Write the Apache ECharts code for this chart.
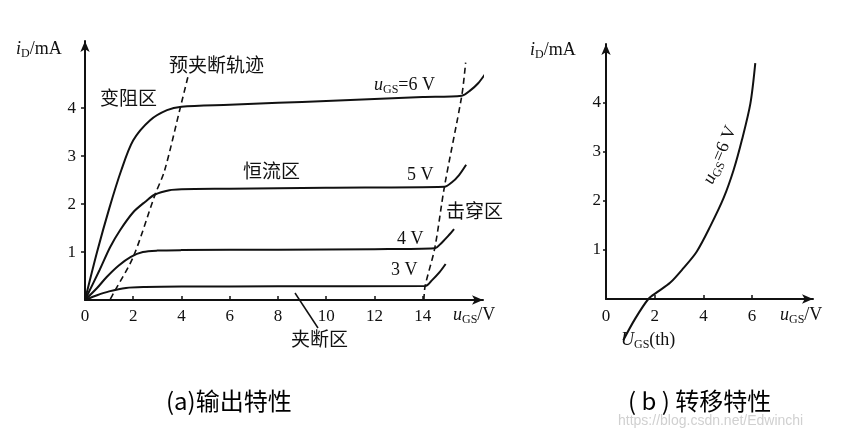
<!DOCTYPE html>
<html><head><meta charset="utf-8">
<script src="https://cdn.jsdelivr.net/npm/echarts@6/dist/echarts.min.js"></script>
<style>html,body{margin:0;padding:0;background:#fff}#c{width:841px;height:438px}</style>
</head><body><div id="c"></div>
<script>
// ---- tick values ----
const outTicksX = [0, 2, 4, 6, 8, 10, 12, 14];
const outTicksY = [1, 2, 3, 4];
const tfTicksX = [0, 2, 4, 6];
const tfTicksY = [1, 2, 3, 4];

// ---- output characteristics (uDS in V, iD in mA) ----
const vds6 = [0, 0.5, 1.0, 1.5, 2.0, 2.7, 3.4, 4.0, 6, 8, 10, 12, 14, 15.62, 15.95, 16.3, 16.6];
const id6  = [0, 1.0, 1.9, 2.7, 3.33, 3.75, 3.96, 4.03, 4.07, 4.11, 4.15, 4.19, 4.23, 4.26, 4.36, 4.52, 4.72];
const vds5 = [0, 0.6, 1.04, 1.46, 2.0, 2.5, 2.9, 3.5, 4.0, 6, 10, 14.9, 15.2, 15.5, 15.8];
const id5  = [0, 0.62, 1.1, 1.46, 1.83, 2.05, 2.2, 2.29, 2.31, 2.32, 2.34, 2.36, 2.45, 2.6, 2.82];
const vds4 = [0, 0.5, 0.9, 1.4, 1.9, 2.4, 3.0, 4, 8, 12, 14.5, 14.8, 15.1, 15.3];
const id4  = [0, 0.25, 0.48, 0.72, 0.9, 1.0, 1.03, 1.04, 1.05, 1.06, 1.08, 1.2, 1.36, 1.48];
const vds3 = [0, 0.5, 1.0, 1.7, 2.5, 4, 8, 14.1, 14.4, 14.7, 14.95];
const id3  = [0, 0.1, 0.18, 0.25, 0.27, 0.28, 0.285, 0.29, 0.42, 0.58, 0.75];
// pre-pinch-off trajectory (dashed)
const vdsPinch = [1.05, 1.18, 2.0, 2.9, 3.3, 3.96, 4.3];
const idPinch  = [0.02, 0.14, 0.9, 2.19, 2.7, 4.03, 4.72];
// breakdown boundary (dashed)
const vdsBreak = [14.05, 14.1, 14.5, 14.9, 15.62, 15.78];
const idBreak  = [0.0, 0.29, 1.08, 2.36, 4.26, 4.95];

// ---- transfer characteristic ----
const vgsT = [0.71, 1.2, 1.74, 2.1, 2.63, 3.18, 3.73, 4.28, 4.83, 5.24, 5.58, 5.93, 6.13];
const idT  = [-0.84, -0.4, 0.0, 0.14, 0.33, 0.63, 0.97, 1.48, 2.06, 2.63, 3.24, 3.99, 4.81];

const zip = (a, b) => a.map((v, i) => [v, b[i]]);

const SERIF = 'Liberation Serif';
const CJK = 'Noto Sans CJK SC';
const INK = '#111';

function axisCommon(extra) {
  return Object.assign({
    type: 'value',
    splitLine: { show: false },
    axisLine: { show: true, onZero: false, lineStyle: { color: INK, width: 2 }, symbol: ['none', 'arrow'], symbolSize: [7, 11] },
    axisTick: { show: true, lineStyle: { color: INK, width: 1.5 }, length: 4 },
    axisLabel: { color: INK, fontFamily: SERIF, fontSize: 17 }
  }, extra);
}

const curveSeries = (x, y, xi, dashed) => ({
  type: 'line', xAxisIndex: xi, yAxisIndex: xi, data: zip(x, y),
  showSymbol: false, smooth: 0.3, clip: false, silent: true,
  lineStyle: dashed ? { color: INK, width: 1.6, type: [6, 4] } : { color: INK, width: 2 }
});

const richSub = {
  i: { fontFamily: SERIF, fontStyle: 'italic', fontSize: 18, fill: INK, verticalAlign: 'middle', lineHeight: 22 },
  s: { fontFamily: SERIF, fontSize: 12, fill: INK, verticalAlign: 'bottom', lineHeight: 14 },
  n: { fontFamily: SERIF, fontSize: 18, fill: INK, verticalAlign: 'middle', lineHeight: 22 }
};

function txt(x, y, text, opts) {
  return { type: 'text', x: x, y: y, silent: true,
    style: Object.assign({ text: text, fill: INK, font: '19px "' + CJK + '"', textAlign: 'left', textVerticalAlign: 'middle' }, opts || {}) };
}
function rtxt(x, y, text, rot) {
  return { type: 'text', x: x, y: y, rotation: rot || 0, silent: true,
    style: { text: text, rich: richSub, textAlign: rot ? 'center' : 'left', textVerticalAlign: 'middle', fill: INK } };
}

const chart = echarts.init(document.getElementById('c'));
chart.setOption({
  backgroundColor: '#fff',
  animation: false,
  grid: [
    { left: 85, top: 41, width: 398, height: 259 },
    { left: 606, top: 44, width: 207, height: 255 }
  ],
  xAxis: [
    axisCommon({ gridIndex: 0, min: 0, max: 16.5, interval: 2,
      axisTick: { show: true, inside: true, length: 4, lineStyle: { color: INK, width: 1.5 }, customValues: outTicksX.slice(1) },
      axisLabel: { color: INK, fontFamily: SERIF, fontSize: 17, margin: 8, customValues: outTicksX } }),
    axisCommon({ gridIndex: 1, min: 0, max: 8.5, interval: 2,
      axisTick: { show: true, inside: true, length: 4, lineStyle: { color: INK, width: 1.5 }, customValues: tfTicksX.slice(1) },
      axisLabel: { color: INK, fontFamily: SERIF, fontSize: 17, margin: 9, customValues: tfTicksX } })
  ],
  yAxis: [
    axisCommon({ gridIndex: 0, min: 0, max: 5.4, interval: 1,
      axisTick: { show: true, length: 4, lineStyle: { color: INK, width: 1.5 }, customValues: outTicksY },
      axisLabel: { color: INK, fontFamily: SERIF, fontSize: 17, margin: 9, customValues: outTicksY } }),
    axisCommon({ gridIndex: 1, min: 0, max: 5.2, interval: 1,
      axisTick: { show: true, length: 3, lineStyle: { color: INK, width: 1.5 }, customValues: tfTicksY },
      axisLabel: { color: INK, fontFamily: SERIF, fontSize: 17, margin: 5, customValues: tfTicksY } })
  ],
  series: [
    curveSeries(vds6, id6, 0),
    curveSeries(vds5, id5, 0),
    curveSeries(vds4, id4, 0),
    curveSeries(vds3, id3, 0),
    curveSeries(vdsPinch, idPinch, 0, true),
    curveSeries(vdsBreak, idBreak, 0, true),
    curveSeries(vgsT, idT, 1)
  ],
  graphic: [
    rtxt(16, 49, '{i|i}{s|D}{n|/mA}'),
    rtxt(530, 50, '{i|i}{s|D}{n|/mA}'),
    txt(169, 65, '预夹断轨迹'),
    txt(100, 98, '变阻区'),
    rtxt(374, 85, '{i|u}{s|GS}{n|=6 V}'),
    txt(243, 171, '恒流区'),
    rtxt(407, 175, '{n|5 V}'),
    txt(446, 211, '击穿区'),
    rtxt(397, 239, '{n|4 V}'),
    rtxt(391, 270, '{n|3 V}'),
    rtxt(453, 315, '{i|u}{s|GS}{n|/V}'),
    txt(291, 339, '夹断区'),
    { type: 'line', silent: true, shape: { x1: 295, y1: 293, x2: 318, y2: 328 }, style: { stroke: INK, lineWidth: 1.5 } },
    rtxt(780, 315, '{i|u}{s|GS}{n|/V}'),
    rtxt(621, 340, '{i|U}{s|GS}{n|(th)}'),
    rtxt(720, 155, '{i|u}{s|GS}{n|=6 V}', 67 * Math.PI / 180),
    txt(166, 401, '(a)输出特性', { font: '24px "' + CJK + '"', fill: '#000' }),
    txt(628, 401, '( b ) 转移特性', { font: '24px "' + CJK + '"', fill: '#000' }),
    txt(618, 421, 'https://blog.csdn.net/Edwinchi', { font: '14px "Liberation Sans"', fill: '#d0d0d0' })
  ]
});
</script>
</body></html>
